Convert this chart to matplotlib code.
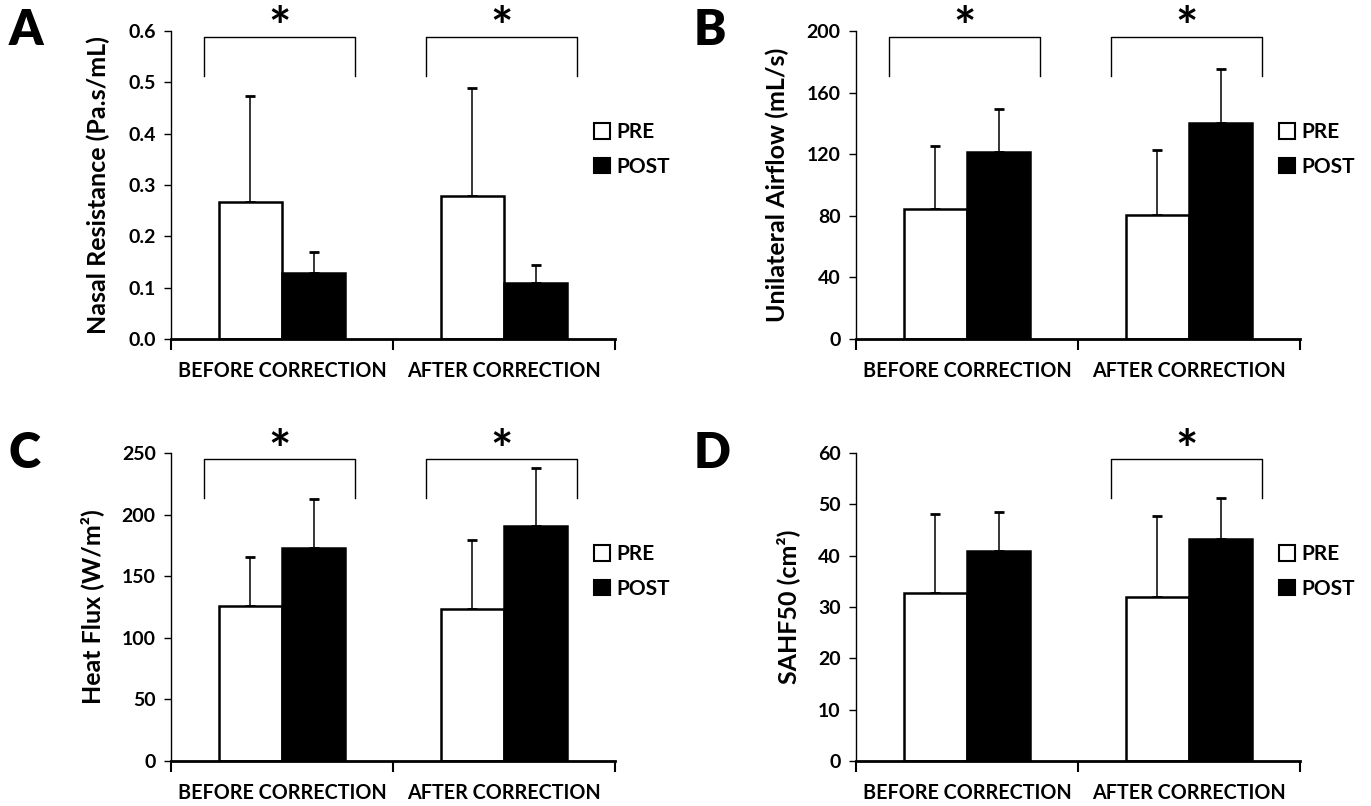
import numpy as np
import matplotlib
matplotlib.use("Agg")
import matplotlib.pyplot as plt
from matplotlib.patches import Patch
import matplotlib.transforms as mtransforms

plt.rcParams['font.family'] = ['Lato', 'DejaVu Sans']
plt.rcParams['font.weight'] = 'bold'
plt.rcParams['axes.labelweight'] = 'bold'

# ========== data ==========
categories = ['BEFORE CORRECTION', 'AFTER CORRECTION']
series_names = ['PRE', 'POST']

resist_pre = [0.266, 0.279]
resist_pre_err = [0.208, 0.210]
resist_post = [0.128, 0.110]
resist_post_err = [0.041, 0.034]

airflow_pre = [84.4, 80.6]
airflow_pre_err = [40.9, 42.1]
airflow_post = [121.2, 140.0]
airflow_post_err = [28.0, 35.6]

flux_pre = [125.8, 123.4]
flux_pre_err = [39.8, 55.7]
flux_post = [172.9, 190.5]
flux_post_err = [39.8, 47.3]

sahf_pre = [32.7, 31.9]
sahf_pre_err = [15.4, 15.8]
sahf_post = [41.0, 43.2]
sahf_post_err = [7.5, 8.1]

resist_ticks = [0.0, 0.1, 0.2, 0.3, 0.4, 0.5, 0.6]
airflow_ticks = [0, 40, 80, 120, 160, 200]
flux_ticks = [0, 50, 100, 150, 200, 250]
sahf_ticks = [0, 10, 20, 30, 40, 50, 60]

resist_sig = [True, True]
airflow_sig = [True, True]
flux_sig = [True, True]
sahf_sig = [False, True]

panels = [
    ('A', 'Nasal Resistance (Pa.s/mL)', resist_pre, resist_pre_err, resist_post, resist_post_err,
     resist_ticks, '{:.1f}', resist_sig),
    ('B', 'Unilateral Airflow (mL/s)', airflow_pre, airflow_pre_err, airflow_post, airflow_post_err,
     airflow_ticks, '{:d}', airflow_sig),
    ('C', 'Heat Flux (W/m²)', flux_pre, flux_pre_err, flux_post, flux_post_err,
     flux_ticks, '{:d}', flux_sig),
    ('D', 'SAHF50 (cm²)', sahf_pre, sahf_pre_err, sahf_post, sahf_post_err,
     sahf_ticks, '{:d}', sahf_sig),
]

# axes boxes in figure fraction (left, bottom, width, height)
W, H = 1371, 806
boxes = [
    (171 / W, 1 - 339 / H, 444 / W, 308 / H),
    (856 / W, 1 - 339 / H, 444 / W, 308 / H),
    (171 / W, 1 - 761 / H, 444 / W, 308 / H),
    (856 / W, 1 - 761 / H, 444 / W, 308 / H),
]

fig = plt.figure(figsize=(13.71, 8.06), dpi=100)

x = np.arange(len(categories))
bw = 0.285

for (letter, ylabel, pre, pre_err, post, post_err, ticks, fmt, sig), box in zip(panels, boxes):
    ax = fig.add_axes(box)
    ax.bar(x - bw / 2, pre, bw, color='white', edgecolor='black', linewidth=1.8, zorder=2)
    ax.bar(x + bw / 2, post, bw, color='black', edgecolor='black', linewidth=1.8, zorder=2)
    ax.errorbar(x - bw / 2, pre, yerr=[np.zeros(len(pre)), pre_err], fmt='none',
                ecolor='black', elinewidth=1.1, capsize=3.5, capthick=2, zorder=1)
    ax.errorbar(x + bw / 2, post, yerr=[np.zeros(len(post)), post_err], fmt='none',
                ecolor='black', elinewidth=1.1, capsize=3.5, capthick=2, zorder=1)

    ax.set_xlim(-0.5, len(categories) - 0.5)
    ax.set_ylim(ticks[0], ticks[-1])
    ax.set_yticks(ticks)
    ax.set_yticklabels([fmt.format(t) for t in ticks], fontsize=14)
    ax.set_xticks(np.arange(len(categories) + 1) - 0.5)
    ax.set_xticklabels([])
    ax.tick_params(axis='x', direction='out', length=8, width=1.5)
    ax.tick_params(axis='y', direction='out', length=5, width=1.0, pad=6)
    trans = mtransforms.blended_transform_factory(ax.transData, ax.transAxes)
    for i, c in enumerate(categories):
        ax.text(i, -0.105, c, transform=trans, ha='center', va='center', fontsize=14.2)
    ax.spines['top'].set_visible(False)
    ax.spines['right'].set_visible(False)
    ax.spines['left'].set_linewidth(1.0)
    ax.spines['bottom'].set_linewidth(2.0)
    ax.set_ylabel(ylabel, fontsize=18, labelpad=13)

    # significance brackets
    for i, s in enumerate(sig):
        if not s:
            continue
        ax.plot([i - 0.35, i - 0.35, i + 0.33, i + 0.33], [0.855, 0.98, 0.98, 0.855],
                color='black', linewidth=1.0, transform=trans, clip_on=False)
        ax.text(i - 0.01, 1.0, '*', transform=trans, ha='center', va='center',
                fontsize=38, clip_on=False)

    handles = [Patch(facecolor='white', edgecolor='black', linewidth=1.5),
               Patch(facecolor='black', edgecolor='black', linewidth=1.5)]
    ax.legend(handles, series_names, loc='center left', bbox_to_anchor=(0.935, 0.615),
              frameon=False, fontsize=15, handlelength=0.75, handleheight=0.75,
              handletextpad=0.3, labelspacing=0.7, borderaxespad=0)

    ax.text(-0.365, 1.0, letter, transform=ax.transAxes, fontsize=35, fontweight='heavy',
            ha='left', va='center')

fig.savefig('out.png', dpi=100)
